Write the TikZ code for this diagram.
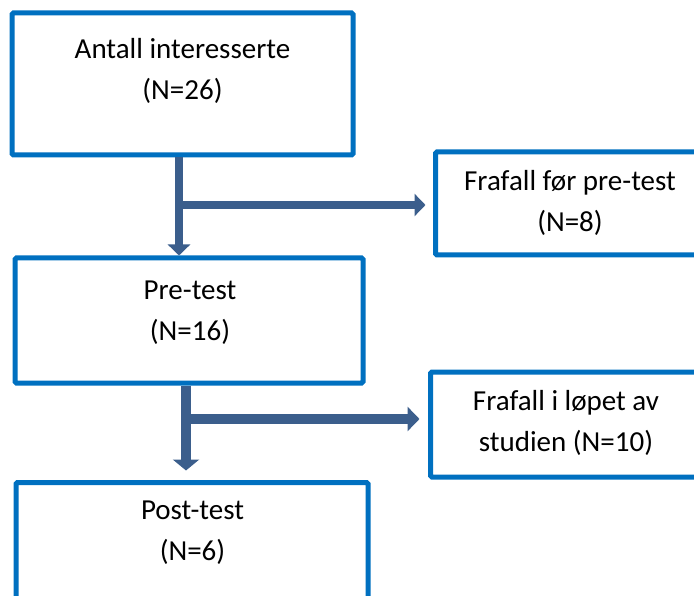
\documentclass[tikz,border=0pt]{standalone}
\usepackage{fontspec}
\setmainfont{Carlito}
\usetikzlibrary{calc, positioning}
\usetikzlibrary{arrows.meta}

\definecolor{boxblue}{RGB}{0,112,192}
\definecolor{arrowblue}{RGB}{59,94,140}

\begin{document}
\begin{tikzpicture}[x=1pt, y=-1pt,
    flowbox/.style={draw=boxblue, line width=5pt, rounded corners=1.5pt, fill=white, inner sep=0pt},
    boxtext/.style={align=center, font=\fontsize{29}{41}\selectfont, inner sep=0pt},
    flowarrow/.style={draw=arrowblue, -{Triangle[width=22pt,length=11pt]}}]
\useasboundingbox (0,0) rectangle (694,596);
\clip (0,0) rectangle (694,596);

% Boxes (the right and bottom ones run off the page)
\node[flowbox, minimum width=341pt, minimum height=142pt] (interest) at (182.5,84) {};
\node[flowbox, minimum width=300pt, minimum height=103pt, anchor=west] (dropone) at (433,203.5) {};
\node[flowbox, minimum width=348pt, minimum height=125pt] (pretest) at (189,320.5) {};
\node[flowbox, minimum width=300pt, minimum height=105pt, anchor=west] (droptwo) at (428,424.5) {};
\node[flowbox, minimum width=352pt, minimum height=140pt, anchor=north] (posttest) at (192,480) {};

% Texts
\node[boxtext] (interesttxt) at (182.5,71) {Antall interesserte\\(N=26)};
\node[boxtext] (droponetxt) at (570,203) {Frafall før pre-test\\(N=8)};
\node[boxtext] (pretesttxt) at (190,312.5) {Pre-test\\(N=16)};
\node[boxtext] (droptwotxt) at (566,422.5) {Frafall i løpet av\\studien (N=10)};
\node[boxtext] (posttesttxt) at (192.5,532.5) {Post-test\\(N=6)};

% Arrows
\coordinate (splitone) at (179,205);
\coordinate (splittwo) at (186,419);
\draw[flowarrow, line width=8pt] (interest.south -| splitone) -- (pretest.north -| splitone);
\draw[flowarrow, line width=8pt, shorten >=7.5pt] (splitone) -- (dropone.west |- splitone);
\draw[flowarrow, line width=10pt, -{Triangle[width=26pt,length=11pt]}, shorten >=9.5pt]
    (pretest.south -| splittwo) -- (posttest.north -| splittwo);
\draw[flowarrow, line width=10pt, -{Triangle[width=24pt,length=12pt]}, shorten >=8.5pt]
    (splittwo) -- (droptwo.west |- splittwo);
\end{tikzpicture}
\end{document}
